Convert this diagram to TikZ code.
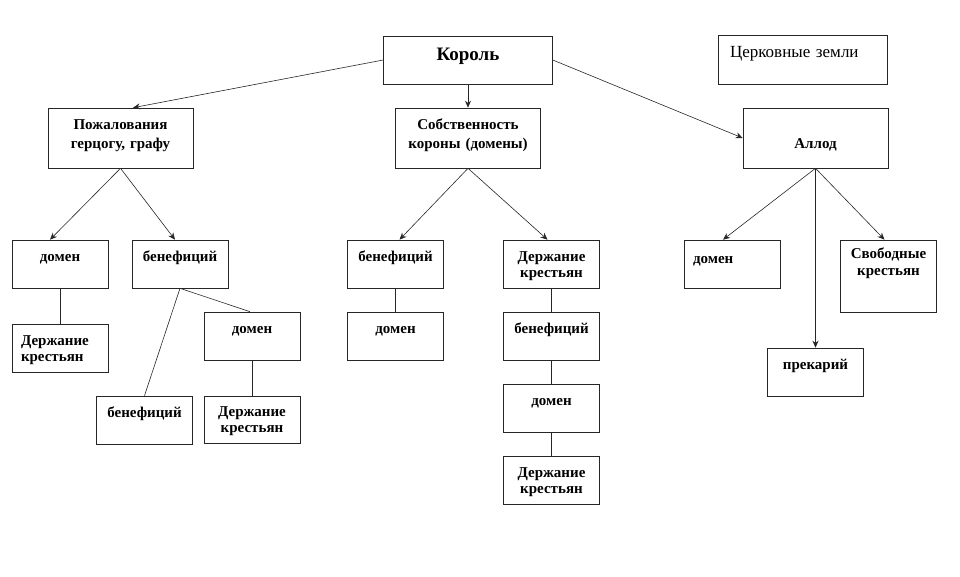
\documentclass[tikz,border=0pt]{standalone}
\usepackage{fontspec}
\setmainfont{Liberation Serif}
\usepackage{tikz}
\usetikzlibrary{positioning, arrows.meta, calc}
\definecolor{linegray}{HTML}{262626}

\begin{document}
\begin{tikzpicture}[
      x=1pt,y=-1pt,
      >={Stealth[length=7pt,width=6pt]},
      link/.style={draw=linegray,line width=0.6pt},
      box/.style={
        rectangle,
        draw=linegray,
        line width=0.6pt,
        inner xsep=5pt,
        inner ysep=0pt,
        text width=86pt,
        align=center,
        font=\fontsize{15}{16}\selectfont\bfseries,
        text height=21pt,
        text depth=27pt,
      },
      lbox/.style={box,align=left,inner xsep=9pt,text width=78pt},
      wide/.style={box,text width=135pt,
        font=\fontsize{15}{19}\selectfont\bfseries,
        text depth=39pt},
      ]
      \useasboundingbox (0,0) rectangle (960,576);
      % top row
      \node[box,text width=159pt,font=\fontsize{19}{22}\selectfont\bfseries,
        text height=24pt,text depth=24pt] (king) at (468,60) {Король};
      \node[lbox,text width=145pt,inner xsep=12pt,
        font=\fontsize{17}{20}\selectfont,text height=22pt] (church) at (802.5,60) {Церковные земли};
      \node[wide] (grant) at (120.5,138) {Пожалования\\герцогу, графу};
      \node[wide] (crown) at (468,138) {Собственность\\короны (домены)};
      \node[wide,text height=40pt,text depth=20pt] (allod) at (815.5,138) {Аллод};
      % grants
      \node[box] (dom1) at (60,264) {домен};
      \node[box] (ben1) at (180,264) {бенефиций};
      \node[lbox] (peas1) at (60,348) {Держание\\крестьян};
      \node[box] (dom2) at (252,336) {домен};
      \node[box] (ben2) at (144.5,420) {бенефиций};
      \node[box,text height=20pt,text depth=27pt] (peas2) at (252,420) {Держание\\крестьян};
      % crown lands
      \node[box] (ben3) at (395.5,264) {бенефиций};
      \node[box] (dom3) at (395.5,336) {домен};
      \node[box] (peas3) at (551.5,264) {Держание\\крестьян};
      \node[box] (ben4) at (551.5,336) {бенефиций};
      \node[box] (dom4) at (551.5,408) {домен};
      \node[box] (peas4) at (551.5,480) {Держание\\крестьян};
      % allod
      \node[lbox,text height=23pt,text depth=25pt] (dom5) at (732,264) {домен};
      \node[box,text height=18pt,text depth=54pt,
        font=\fontsize{15}{17}\selectfont\bfseries] (free) at (888.5,276) {Свободные\\крестьян};
      \node[box] (prec) at (815.5,372) {прекарий};
      \draw[link,->] (king.west) -- ([xshift=12.5pt]grant.north);
      \draw[link,->] (king.south) -- (crown.north);
      \draw[link,->] (king.east) -- (allod.west);
      \draw[link,->] (grant.south) -- ([xshift=-10pt]dom1.north);
      \draw[link,->] (grant.south) -- ([xshift=-5pt]ben1.north);
      \draw[link,->] (crown.south) -- ([xshift=4pt]ben3.north);
      \draw[link,->] (crown.south) -- ([xshift=-4pt]peas3.north);
      \draw[link,->] (allod.south) -- ([xshift=-9pt]dom5.north);
      \draw[link,->] (allod.south) -- (prec.north);
      \draw[link,->] (allod.south) -- ([xshift=-4pt]free.north);
      \draw[link] (dom1) -- (peas1);
      \draw[link] (ben1.south) -- (ben2.north);
      \draw[link] (ben1.south) -- ([xshift=-2pt]dom2.north);
      \draw[link] (dom2) -- (peas2);
      \draw[link] (ben3) -- (dom3);
      \draw[link] (peas3) -- (ben4) -- (dom4) -- (peas4);
    \end{tikzpicture}
\end{document}
